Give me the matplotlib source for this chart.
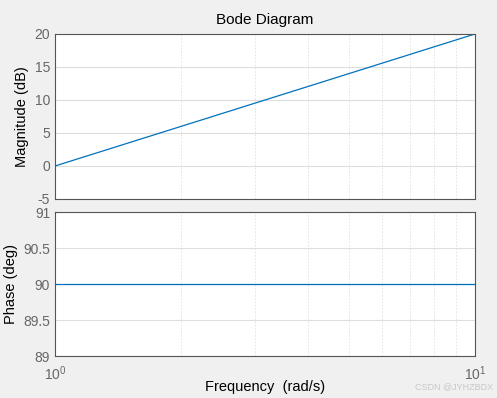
import matplotlib
matplotlib.use("Agg")
import matplotlib.pyplot as plt
from matplotlib.ticker import FixedLocator, NullFormatter, LogLocator

plt.rcParams['font.family'] = ['Liberation Sans', 'DejaVu Sans']
plt.rcParams['axes.unicode_minus'] = False
plt.rcParams['mathtext.fontset'] = 'custom'
plt.rcParams['mathtext.rm'] = 'Liberation Sans'
plt.rcParams['mathtext.it'] = 'Liberation Sans'

# data
freq = [1, 2, 5, 10]                  # rad/s
mag_db = [0.0, 6.02, 13.98, 20.0]     # dB
phase_deg = [90.0, 90.0, 90.0, 90.0]  # deg

mag_ticks = [-5, 0, 5, 10, 15, 20]
phase_ticks = [89, 89.5, 90, 90.5, 91]
phase_labels = ["89", "89.5", "90", "90.5", "91"]

line_col = "#0072bd"
tick_col = "#666666"
spine_col = "#555555"

fig = plt.figure(figsize=(4.97, 3.98), dpi=100, facecolor="#f0f0f0")
ax1 = fig.add_axes([0.1107, 0.5, 0.845, 0.4146])
ax2 = fig.add_axes([0.1107, 0.1055, 0.845, 0.3618])

for ax in (ax1, ax2):
    ax.set_xscale("log")
    ax.set_xlim(1, 10)
    ax.set_facecolor("white")
    ax.xaxis.set_minor_locator(LogLocator(base=10, subs=range(2, 10)))
    ax.xaxis.set_minor_formatter(NullFormatter())
    ax.grid(True, which="minor", axis="x", linestyle=(0, (2, 2)), color="#e0e0e0", linewidth=0.6)
    ax.grid(True, which="major", axis="y", linestyle="-", color="#dedede", linewidth=0.8)
    ax.tick_params(which="both", direction="in", length=0, colors=tick_col, labelsize=10)
    for s in ax.spines.values():
        s.set_color(spine_col)
        s.set_linewidth(0.8)

ax1.plot(freq, mag_db, color=line_col, linewidth=0.9)
ax1.set_ylim(-5, 20)
ax1.yaxis.set_major_locator(FixedLocator(mag_ticks))
ax1.tick_params(axis="x", labelbottom=False)
ax1.set_ylabel("Magnitude (dB)", fontsize=10.5)
ax1.set_title("Bode Diagram", fontsize=11, pad=7)

ax2.plot(freq, phase_deg, color=line_col, linewidth=0.9)
ax2.set_ylim(89, 91)
ax2.set_yticks(phase_ticks)
ax2.set_yticklabels(phase_labels)
ax2.set_xticks([1, 10])
ax2.set_xticklabels([r"$10^0$", r"$10^1$"])
ax2.tick_params(axis="x", pad=6)
ax2.set_ylabel("Phase (deg)", fontsize=10.5)
ax2.set_xlabel("Frequency  (rad/s)", fontsize=10.5, labelpad=-2)

fig.text(0.992, 0.022, "CSDN @JYHZBDX", color="#c8c8c8", fontsize=6.5,
         ha="right", va="baseline")

fig.savefig("out.png", dpi=100, facecolor=fig.get_facecolor())
